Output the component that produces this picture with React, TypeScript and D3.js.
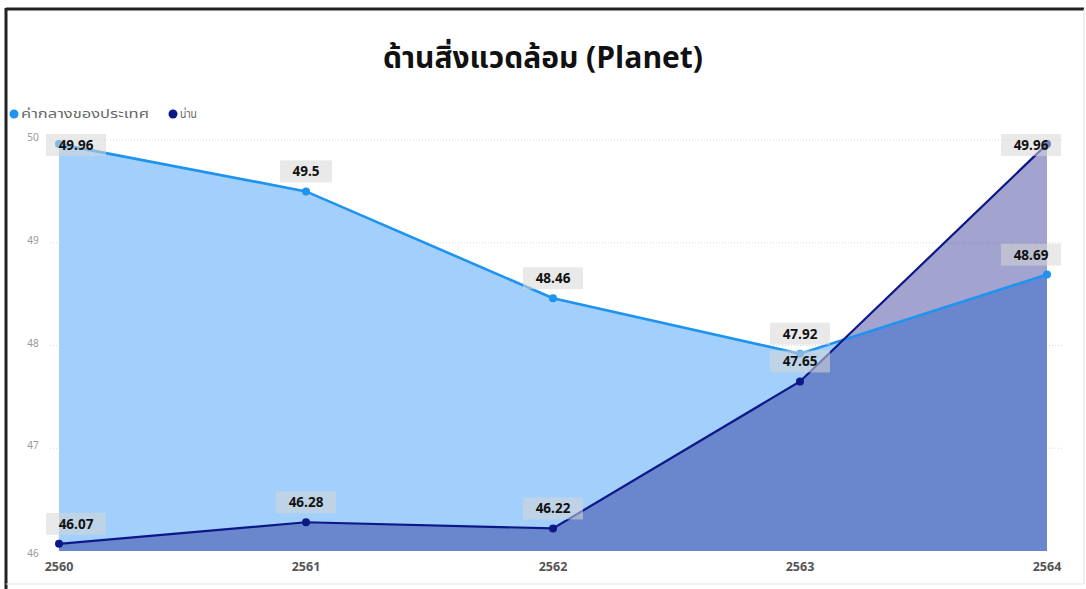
import React from "react";
import * as d3 from "d3";

const years = ["2560", "2561", "2562", "2563", "2564"];
const national = [49.96, 49.5, 48.46, 47.92, 48.69];
const nan = [46.07, 46.28, 46.22, 47.65, 49.96];
const yTicks = [46, 47, 48, 49, 50];
const seriesNames = ["ค่ากลางของประเทศ", "น่าน"];
const title = "ด้านสิ่งแวดล้อม (Planet)";

const W = 1086;
const H = 589;
const FONT = "'Noto Sans Thai', 'Leelawadee UI', Tahoma, 'Noto Sans', 'Open Sans', sans-serif";

const COL_NAT_LINE = "#1f93f0";
const COL_NAT_AREA = "#a2cffb";
const COL_NAN_LINE = "#0c1888";
const COL_NAN_AREA = "rgba(22,24,135,0.40)";

export default function App() {
  const x = d3.scalePoint<string>().domain(years).range([59, 1047]);
  const y = d3.scaleLinear().domain([46, 50]).range([551, 140]);

  const natData = years.map((yr, i) => ({ yr, v: national[i] }));
  const nanData = years.map((yr, i) => ({ yr, v: nan[i] }));

  const area = d3
    .area<{ yr: string; v: number }>()
    .x((d) => x(d.yr)!)
    .y0(y(46))
    .y1((d) => y(d.v));
  const line = d3
    .line<{ yr: string; v: number }>()
    .x((d) => x(d.yr)!)
    .y((d) => y(d.v));

  const labels: { t: string; cx: number; cy: number }[] = [];
  const addLabels = (data: { yr: string; v: number }[]) => {
    data.forEach((d) => {
      const t = String(d.v);
      const px = x(d.yr)!;
      const py = y(d.v);
      const cx = Math.min(Math.max(px, 76), 1031);
      const cy = Math.max(py - 20, 145);
      labels.push({ t, cx, cy });
    });
  };
  addLabels(natData);
  addLabels(nanData);

  return (
    <svg
      width={W}
      height={H}
      style={{ position: "absolute", left: 0, top: 0, display: "block", background: "#fff" }}
      fontFamily={FONT}
    >
      <rect x={0} y={0} width={W} height={H} fill="#fff" />
      {/* frame */}
      <line x1={6} y1={9} x2={1084} y2={9} stroke="#222" strokeWidth={3} />
      <line x1={6} y1={8} x2={6} y2={589} stroke="#222" strokeWidth={3} />
      <line x1={1084} y1={9} x2={1084} y2={584} stroke="#ddd" strokeWidth={1} />
      <line x1={6} y1={584} x2={1084} y2={584} stroke="#e4e4e4" strokeWidth={1} />

      <text x={543} y={68} textAnchor="middle" fontSize={30} fontWeight={700} fill="#111">
        {title}
      </text>

      {/* legend */}
      <circle cx={14} cy={114} r={4.5} fill={COL_NAT_LINE} />
      <text x={21} y={118} fontSize={11.5} fill="#666" textLength={128} lengthAdjust="spacingAndGlyphs">
        {seriesNames[0]}
      </text>
      <circle cx={173} cy={114} r={4.5} fill={COL_NAN_LINE} />
      <text x={180} y={118} fontSize={11.5} fill="#666" textLength={17} lengthAdjust="spacingAndGlyphs">
        {seriesNames[1]}
      </text>

      {/* gridlines & y ticks */}
      {yTicks.map((t) => (
        <g key={t}>
          {t > 46 && (
            <line
              x1={50}
              x2={1064}
              y1={y(t)}
              y2={y(t)}
              stroke="#d8d8d8"
              strokeDasharray="1,2"
              strokeWidth={1}
            />
          )}
          <text x={33} y={y(t) + (t === 46 ? 6 : 1)} textAnchor="middle" fontSize={10} fill="#999">
            {t}
          </text>
        </g>
      ))}

      {/* areas */}
      <path d={area(natData)!} fill={COL_NAT_AREA} />
      <path d={area(nanData)!} fill={COL_NAN_AREA} />

      {/* lines */}
      <path d={line(natData)!} fill="none" stroke={COL_NAT_LINE} strokeWidth={2.6} />
      <path d={line(nanData)!} fill="none" stroke={COL_NAN_LINE} strokeWidth={2.2} />
      {natData.map((d) => (
        <circle key={"a" + d.yr} cx={x(d.yr)!} cy={y(d.v)} r={4} fill={COL_NAT_LINE} />
      ))}
      {nanData.map((d) => (
        <circle key={"b" + d.yr} cx={x(d.yr)!} cy={y(d.v)} r={4} fill={COL_NAN_LINE} />
      ))}

      {/* x ticks */}
      {years.map((yr) => (
        <text key={yr} x={x(yr)!} y={571} textAnchor="middle" fontSize={12.5} fontWeight={700} fill="#555">
          {yr}
        </text>
      ))}

      {/* data labels */}
      {labels.map((l, i) => {
        const w = l.t.length * 8 + 20;
        return (
          <g key={i}>
            <rect x={l.cx - w / 2} y={l.cy - 11} width={w} height={22} fill="rgba(215,215,215,0.55)" />
            <text x={l.cx} y={l.cy + 5} textAnchor="middle" fontSize={13.5} fontWeight={700} fill="#111">
              {l.t}
            </text>
          </g>
        );
      })}
    </svg>
  );
}
